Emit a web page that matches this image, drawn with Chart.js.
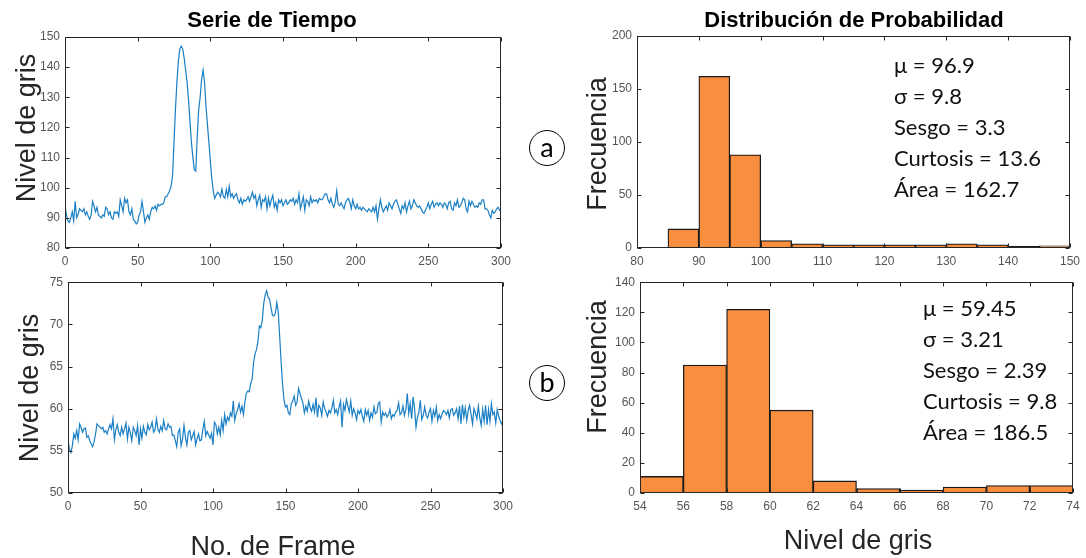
<!DOCTYPE html>
<html>
<head>
<meta charset="utf-8">
<script src="https://cdn.jsdelivr.net/npm/chart.js@4.4.1/dist/chart.umd.min.js"></script>
<style>
  html, body { margin: 0; padding: 0; background: #fff; }
  body { width: 1086px; height: 558px; position: relative; overflow: hidden; font-family: "Liberation Sans", Arial, sans-serif; }
  .box { position: absolute; }
  .lbl { position: absolute; transform: translate(-50%, -50%); white-space: nowrap; color: #262626; }
  .rot { transform: translate(-50%, -50%) rotate(-90deg); }
  .title { font-weight: bold; font-size: 22px; color: #000; }
  .axt { font-size: 27px; }
  .stats { position: absolute; font-family: Lato, "Open Sans", sans-serif; font-size: 22px; line-height: 31px; color: #111; white-space: nowrap; }
  .circ { position: absolute; width: 34px; height: 34px; border: 1.6px solid #000; border-radius: 50%;
          transform: translate(-50%, -50%); font-family: Lato, sans-serif; font-size: 27px; line-height: 31px; text-align: center; color: #000; }
</style>
</head>
<body>

<div class="box" style="left:0;top:0;width:530px;height:275px"><canvas id="serieA"></canvas></div>
<div class="box" style="left:0;top:270px;width:530px;height:288px"><canvas id="serieB"></canvas></div>
<div class="box" style="left:560px;top:0;width:526px;height:275px"><canvas id="histA"></canvas></div>
<div class="box" style="left:560px;top:270px;width:526px;height:288px"><canvas id="histB"></canvas></div>

<div class="lbl title" style="left:272px;top:20px">Serie de Tiempo</div>
<div class="lbl title" style="left:854px;top:20px">Distribución de Probabilidad</div>
<div class="lbl axt rot" style="left:26px;top:128px">Nivel de gris</div>
<div class="lbl axt rot" style="left:29px;top:388px">Nivel de gris</div>
<div class="lbl axt rot" style="left:597px;top:144px">Frecuencia</div>
<div class="lbl axt rot" style="left:597px;top:367px">Frecuencia</div>
<div class="lbl axt" style="left:273px;top:546px">No. de Frame</div>
<div class="lbl axt" style="left:858px;top:540px">Nivel de gris</div>

<div class="circ" style="left:547px;top:148px">a</div>
<div class="circ" style="left:547px;top:383px">b</div>

<div class="stats" style="left:894px;top:49px">μ = 96.9<br>σ = 9.8<br>Sesgo = 3.3<br>Curtosis = 13.6<br>Área = 162.7</div>
<div class="stats" style="left:923px;top:292px">μ = 59.45<br>σ = 3.21<br>Sesgo = 2.39<br>Curtosis = 9.8<br>Área = 186.5</div>

<script>
'use strict';

// ── Data ─────────────────────────────────────────────────────────────────────
// (a) gray level per frame, 0..300
const serieA = [
  94, 91, 89, 88.5, 90, 92, 89, 95.5, 90, 91,
  93, 92.5, 92, 93, 91, 92, 90.5, 89.5, 91, 95.5,
  94, 92, 93.5, 91, 90.5, 90, 91, 90.5, 93.5, 93,
  91, 92, 90, 89.5, 92, 91.5, 92, 90.5, 96, 94,
  92, 96.5, 95, 96, 92, 91, 93, 89.5, 89, 88,
  88.5, 91, 92, 95.5, 92, 88.5, 90, 91, 89.5, 92,
  93.5, 93, 94, 92.5, 94.5, 94, 94.5, 94.5, 95, 97,
  97, 98, 99, 100.5, 104, 115, 126, 135, 142, 146,
  147, 146, 143, 139, 135, 129, 122, 115, 110, 106,
  105.5, 117, 126, 130, 136, 139, 135, 127, 121, 115,
  109, 103, 99, 96.5, 97.5, 98.5, 98, 97, 99.5, 97,
  96.5, 99.5, 97, 100.5, 97, 98, 96.5, 97.5, 98, 96,
  95, 96.5, 94.5, 96, 95.5, 96, 97, 95.5, 97, 98.5,
  96.5, 97.5, 94, 96, 97.5, 93.5, 96, 95.5, 97, 93,
  96.5, 94, 96, 97.5, 93.5, 95, 92.5, 96, 95, 96,
  94, 95, 96, 94.5, 95, 96, 95.5, 96.5, 94.5, 96,
  95, 98, 93, 95, 97, 92.5, 96, 95.5, 94, 97,
  95, 96, 95.5, 96, 95, 96.5, 96, 96, 97, 98,
  98, 96, 95, 96.5, 94.5, 93.5, 95.5, 99, 94.5, 94,
  95, 94, 93, 95, 96, 96.5, 95, 93, 96, 94,
  93, 94.5, 93, 93.5, 92.5, 93.5, 93, 92.5, 92, 93,
  92.5, 92, 93.5, 92, 94, 89.5, 93, 96, 93.5, 92,
  93, 94, 92.5, 95, 94, 93, 94.5, 95.5, 96, 94.5,
  93, 91.5, 94, 93, 95, 92, 94, 95.5, 93, 94,
  96, 95, 94, 93.5, 94, 93, 92, 91.5, 92.5, 93.5,
  95, 93, 94.5, 95.5, 93.5, 94.5, 95, 94, 95, 94.5,
  93.5, 95, 94.5, 93, 95, 95.5, 93, 92.5, 95, 94,
  96, 93.5, 94, 95, 96.5, 96, 93, 92, 95.5, 94,
  95.5, 94.5, 93.5, 94, 93.5, 95, 94.5, 96, 96, 93,
  93, 92.5, 91, 90, 92.5, 91.5, 92, 93, 93.5, 92.5,
  93
];

// (b) gray level per frame, 0..300
const serieB = [
  56.3, 55.2, 54.8, 55.6, 57.0, 56.5, 57.4, 56.3, 58.2, 57.8,
  57.2, 57.6, 57.7, 56.6, 56.8, 56.2, 55.8, 55.5, 56.1, 57.0,
  58.2, 58.0, 57.8, 57.6, 57.8, 57.2, 57.4, 57.0, 57.6, 58.1,
  57.6, 58.8, 56.3, 57.5, 58.1, 57.2, 56.8, 57.8, 57.0, 57.6,
  58.3, 56.4, 57.8, 57.1, 56.2, 57.8, 57.4, 56.8, 58.0, 55.7,
  57.6, 56.5, 57.9, 57.2, 56.9, 58.1, 57.5, 57.8, 58.4, 57.2,
  57.5, 58.8, 57.6, 57.2, 57.9, 57.4, 58.6, 57.6, 57.5, 58.2,
  57.8, 57.9, 56.8, 56.9, 56.2, 55.5, 57.2, 57.6, 55.6, 56.4,
  58.0, 56.6, 55.7, 57.2, 57.4, 56.3, 56.8, 57.3, 55.7, 56.4,
  57.0, 56.2, 56.3, 57.5, 58.5, 56.8, 57.3, 56.9, 56.5, 57.1,
  55.7, 58.4, 58.1, 57.0, 57.8, 56.9, 58.6, 57.4, 59.3, 58.2,
  59.0, 58.6, 59.5, 59.1, 60.9, 58.6, 59.4, 59.9, 60.6, 59.6,
  60.3, 59.3, 60.8, 61.8, 62.1, 62.0, 63.0, 63.5, 65.5, 66.5,
  67.0, 68.0, 69.8, 69.6, 70.5, 72.5, 73.5, 74.0, 73.2, 73.0,
  72.0, 71.1, 71.0, 71.3, 72.6, 71.5, 68.5, 65.5, 62.8, 61.0,
  60.2, 60.4, 59.5, 59.3, 60.6, 60.9, 61.5, 60.4, 60.8, 62.4,
  61.8, 61.2, 60.7, 59.5, 60.3, 59.7, 60.9, 60.1, 59.7, 60.5,
  59.6, 61.3, 59.0, 60.4, 60.1, 59.2, 60.8, 60.0, 59.6, 59.1,
  59.8, 59.5, 60.1, 61.0, 59.5, 59.9, 59.3, 60.2, 60.9, 57.8,
  60.5, 59.8, 61.1, 60.3, 59.6, 60.9, 59.2, 60.0, 59.5, 58.7,
  59.8, 59.4, 59.9, 59.1, 58.5, 59.9, 59.2, 59.8, 58.6, 59.5,
  59.0, 60.2, 59.4, 59.6, 60.6, 60.8, 58.4, 59.6, 59.2, 59.5,
  59.0, 59.3, 59.9, 58.8, 59.3, 59.1, 59.6, 59.8, 60.7, 59.3,
  59.5, 60.3, 59.2, 59.9, 61.8, 59.4, 60.6, 58.8, 61.4, 60.0,
  57.8, 59.0, 59.6, 61.0, 58.7, 59.2, 60.2, 59.2, 58.9, 59.6,
  60.0, 58.5, 59.8, 59.1, 60.2, 58.6, 59.3, 58.8, 59.4, 59.8,
  59.6, 59.3, 59.8, 58.9, 59.9, 60.0, 59.2, 59.5, 60.0, 58.8,
  60.3, 58.2, 60.5, 59.0, 60.1, 58.6, 59.8, 60.4, 59.3, 58.2,
  60.0, 59.5, 58.8, 60.3, 58.9, 58.0, 59.9, 58.5, 60.4, 58.1,
  59.9, 58.5, 60.6, 59.3, 59.6, 58.3, 59.9, 59.1, 58.6, 58.2,
  58.6
];

// histogram (a): bins of 5 from 85 to 150
const binCentersA = [87.5, 92.5, 97.5, 102.5, 107.5, 112.5, 117.5, 122.5, 127.5, 132.5, 137.5, 142.5, 147.5];
const countsA     = [18, 162, 88, 7, 4, 3, 3, 3, 3, 4, 3, 1.5, 2];

// histogram (b): bins of 2 from 54 to 74
const binCentersB = [55, 57, 59, 61, 63, 65, 67, 69, 71, 73];
const countsB     = [11, 85, 122, 55, 8, 3, 2, 4, 5, 5];

// ── Styling ──────────────────────────────────────────────────────────────────
const LINE_BLUE  = '#1a7fc4';
const BAR_ORANGE = '#f98e3f';
const TICK_FONT  = { family: '"Liberation Sans", Arial, sans-serif', size: 12 };
const TICK_COLOR = '#555555';

// MATLAB-like box with inward tick marks on all four sides
const matlabBox = {
  id: 'matlabBox',
  afterDraw(chart) {
    const { ctx, chartArea: a, scales } = chart;
    const L = Math.round(a.left) + 0.5, R = Math.round(a.right) - 0.5;
    const T = Math.round(a.top) + 0.5,  B = Math.round(a.bottom) - 0.5;
    ctx.save();
    ctx.strokeStyle = '#262626';
    ctx.lineWidth = 1;
    ctx.strokeRect(L, T, R - L, B - T);
    ctx.beginPath();
    scales.x.ticks.forEach(t => {
      const px = Math.round(scales.x.getPixelForValue(t.value)) + 0.5;
      ctx.moveTo(px, B); ctx.lineTo(px, B - 4);
      ctx.moveTo(px, T); ctx.lineTo(px, T + 4);
    });
    scales.y.ticks.forEach(t => {
      const py = Math.round(scales.y.getPixelForValue(t.value)) + 0.5;
      ctx.moveTo(L, py); ctx.lineTo(L + 4, py);
      ctx.moveTo(R, py); ctx.lineTo(R - 4, py);
    });
    ctx.stroke();
    ctx.restore();
  }
};

function axis(min, max, step, fitSize, isX) {
  return {
    type: 'linear', min, max, offset: false,
    grid: { display: false, drawTicks: false },
    border: { display: false },
    ticks: { stepSize: step, color: TICK_COLOR, font: TICK_FONT, padding: isX ? 6 : 5, maxRotation: 0, autoSkip: false },
    afterFit: s => { if (isX) s.height = fitSize; else s.width = fitSize; },
  };
}

function baseOptions(pad, xAxis, yAxis) {
  return {
    responsive: true, maintainAspectRatio: false, animation: false,
    layout: { padding: pad },
    plugins: { legend: { display: false }, tooltip: { enabled: false } },
    scales: { x: xAxis, y: yAxis },
  };
}

function makeSerie(id, values, yMin, yMax, yStep, pad, yWidth, xHeight) {
  new Chart(document.getElementById(id), {
    type: 'line',
    data: {
      datasets: [{
        data: values.map((v, i) => ({ x: i, y: v })),
        borderColor: LINE_BLUE, borderWidth: 1.2,
        pointRadius: 0, tension: 0, fill: false,
      }],
    },
    options: baseOptions(pad, axis(0, 300, 50, xHeight, true), axis(yMin, yMax, yStep, yWidth, false)),
    plugins: [matlabBox],
  });
}

function makeHist(id, centers, counts, xMin, xMax, xStep, yMax, yStep, pad, yWidth, xHeight) {
  new Chart(document.getElementById(id), {
    type: 'bar',
    data: {
      datasets: [{
        data: centers.map((c, i) => ({ x: c, y: counts[i] })),
        backgroundColor: BAR_ORANGE, borderColor: '#1a1a1a', borderWidth: 1.3,
        borderSkipped: false, barPercentage: 1, categoryPercentage: 1,
      }],
    },
    options: baseOptions(pad, axis(xMin, xMax, xStep, xHeight, true), axis(0, yMax, yStep, yWidth, false)),
    plugins: [matlabBox],
  });
}

makeSerie('serieA', serieA, 80, 150, 10, { top: 37, right: 29, left: 0, bottom: 0 }, 65, 27);
makeSerie('serieB', serieB, 50, 75, 5,   { top: 12, right: 27, left: 0, bottom: 0 }, 68, 65);
makeHist('histA', binCentersA, countsA, 80, 150, 10, 200, 50, { top: 36, right: 14, left: 0, bottom: 0 }, 77, 27);
makeHist('histB', binCentersB, countsB, 54, 74, 2, 140, 20,   { top: 12, right: 13, left: 0, bottom: 0 }, 80, 65);
</script>
</body>
</html>
